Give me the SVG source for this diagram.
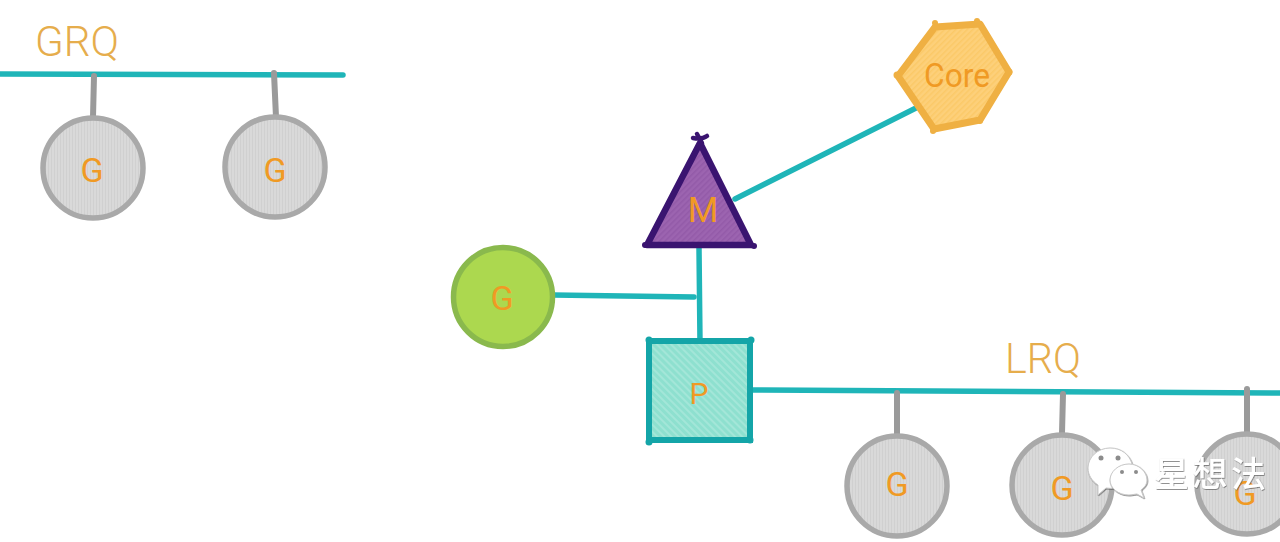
<svg xmlns="http://www.w3.org/2000/svg" width="1280" height="542" viewBox="0 0 1280 542">
<defs>
<pattern id="hGrey" width="3" height="3" patternUnits="userSpaceOnUse"><rect width="3" height="3" fill="#d9d9d9"/><rect width="1" height="3" fill="#d0d0d0"/></pattern>
<pattern id="hTeal" width="5" height="5" patternUnits="userSpaceOnUse" patternTransform="rotate(-45)"><rect width="5" height="5" fill="#8ee0cf"/><rect width="2" height="5" fill="#a3e6d8"/></pattern>
<pattern id="hPurple" width="4" height="4" patternUnits="userSpaceOnUse" patternTransform="rotate(45)"><rect width="4" height="4" fill="#9c64b0"/><rect width="1.500" height="4" fill="#935aa8"/></pattern>
<pattern id="hOrange" width="4" height="4" patternUnits="userSpaceOnUse" patternTransform="rotate(45)"><rect width="4" height="4" fill="#fdd07a"/><rect width="1.500" height="4" fill="#fbc968"/></pattern>
<filter id="wmShadow" x="-10%" y="-20%" width="120%" height="140%"><feDropShadow dx="0.600" dy="0.800" stdDeviation="0.500" flood-color="#555" flood-opacity="0.800"/></filter>
<style>
.conn{fill:none;stroke:#1fb5b8;stroke-width:5.500;stroke-linecap:round}
.stem{fill:none;stroke:#9a9a9a;stroke-width:6;stroke-linecap:round}
.g{fill:url(#hGrey);stroke:#a9a9a9;stroke-width:5.500}
.lbl{font-family:"Roboto","Liberation Sans",sans-serif;font-weight:400;fill:#f09a24;text-anchor:middle}
.head{font-family:"Roboto","Liberation Sans",sans-serif;font-weight:300;fill:#e6ad4c;font-size:42px}
.wm{font-family:"Noto Sans CJK SC",sans-serif;font-weight:500;font-size:35px;fill:#fff;filter:url(#wmShadow)}
.bubble{fill:#fff;stroke:#c8c8c8;stroke-width:1;filter:url(#wmShadow)}
.eye{fill:#8c8c8c}
</style>
</defs>
<rect width="1280" height="542" fill="#fff"/>
<g id="connectors">
<path class="conn" d="M0 74 L343 75"/>
<path class="stem" d="M94 76 L93 117"/>
<path class="stem" d="M274 73 L276 117"/>
<path class="conn" d="M735 199 L916 108"/>
<path class="conn" d="M699 248 L700 342"/>
<path class="conn" d="M553 295 L694 297"/>
<path class="conn" d="M751 390 L1280 393"/>
<path class="stem" d="M897 393 L897 436"/>
<path class="stem" d="M1063 394 L1062 433"/>
<path class="stem" d="M1247 389 L1247 433"/>
</g>
<g id="label-grq"><text class="head" x="35" y="56" textLength="84" lengthAdjust="spacingAndGlyphs">GRQ</text></g>
<g id="label-lrq"><text class="head" x="1005" y="373" textLength="76" lengthAdjust="spacingAndGlyphs">LRQ</text></g>
<g id="g-grq-1"><circle class="g" cx="93" cy="168" r="50"/><text class="lbl" x="92" y="182" font-size="34">G</text></g>
<g id="g-grq-2"><circle class="g" cx="275" cy="167" r="50"/><text class="lbl" x="275" y="182" font-size="34">G</text></g>
<g id="g-running"><circle cx="503" cy="297" r="49.500" fill="#acd84f" stroke="#8ab94d" stroke-width="5.500"/><text class="lbl" x="502" y="310" font-size="34">G</text></g>
<g id="core">
<path d="M935 27 L980 24 L1009 72 L980 120 L934 129 L898 76 Z" fill="url(#hOrange)" stroke="#efb043" stroke-width="7" stroke-linejoin="round"/>
<g fill="#efb043"><circle cx="935" cy="23" r="3"/><circle cx="977" cy="21" r="3"/><circle cx="1009" cy="72" r="3.500"/><circle cx="980" cy="121" r="3"/><circle cx="933" cy="131" r="3"/><circle cx="897" cy="75" r="3.500"/></g>
<text class="lbl" x="957" y="87" font-size="33" textLength="66" lengthAdjust="spacingAndGlyphs">Core</text>
</g>
<g id="m">
<path d="M700 143 L751 245 L647 245 Z" fill="url(#hPurple)" stroke="#3a1470" stroke-width="6.500" stroke-linejoin="round"/>
<path d="M693 138 C698 139 703 139 707 136 M697 134 L702 143" fill="none" stroke="#3a1470" stroke-width="4.500" stroke-linecap="round"/>
<g fill="#3a1470"><circle cx="645" cy="245" r="3"/><circle cx="754" cy="246" r="3"/></g>
<text class="lbl" x="703" y="222" font-size="35">M</text>
</g>
<g id="p">
<rect x="649" y="341" width="101" height="99" fill="url(#hTeal)" stroke="#14a5a8" stroke-width="6"/>
<g fill="#14a5a8"><circle cx="649" cy="340" r="3.500"/><circle cx="751" cy="340" r="3.500"/><circle cx="649" cy="442" r="3.500"/><circle cx="750" cy="440" r="3.500"/></g>
<text class="lbl" x="699" y="404" font-size="30">P</text>
</g>
<g id="g-lrq-1"><circle class="g" cx="897" cy="486" r="50"/><text class="lbl" x="897" y="496" font-size="34">G</text></g>
<g id="g-lrq-2"><circle class="g" cx="1062" cy="485" r="50"/><text class="lbl" x="1062" y="500" font-size="34">G</text></g>
<g id="g-lrq-3"><circle class="g" cx="1247" cy="484" r="50"/><text class="lbl" x="1245" y="505" font-size="34">G</text></g>
<g id="watermark">
<path class="bubble" d="M1110 448 C1098 448 1088 457 1088 468 C1088 475 1092 481 1098 485 L1098 495 L1106 488 C1115 489 1123 488 1128 484 C1138 476 1134 448 1110 448 Z"/>
<path class="bubble" d="M1129 464 C1118 464 1110 472 1110 480 C1110 488 1118 495 1129 495 C1132 495 1135 494 1137 494 L1144 498 L1141 490 C1145 487 1147 484 1147 480 C1147 472 1139 464 1129 464 Z"/>
<circle class="eye" cx="1101" cy="458" r="2.500"/><circle class="eye" cx="1118" cy="458" r="2.500"/>
<circle class="eye" cx="1122" cy="472" r="2"/><circle class="eye" cx="1136" cy="472" r="2"/>
<text class="wm" x="1154" y="487" textLength="112">星想法</text>
</g>
</svg>
